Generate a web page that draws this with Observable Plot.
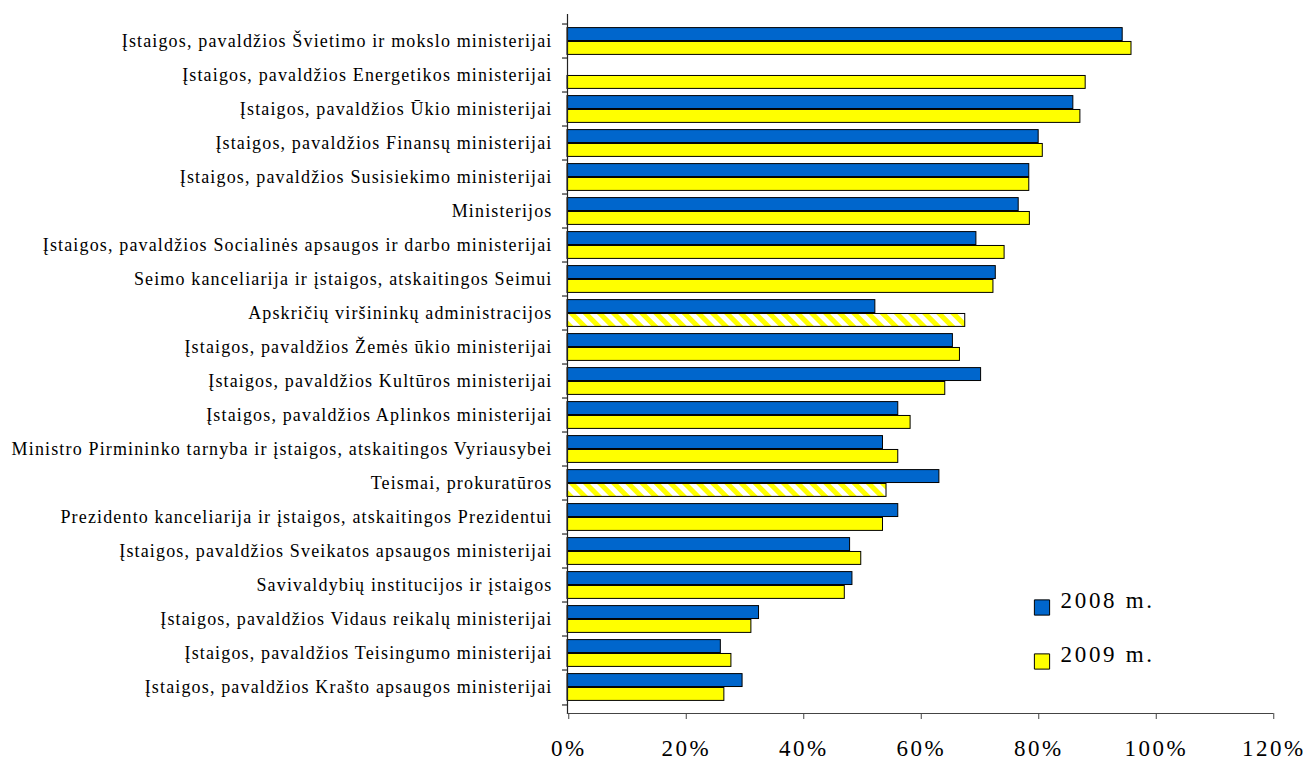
<!DOCTYPE html>
<html>
<head>
<meta charset="utf-8">
<script src="https://cdn.jsdelivr.net/npm/d3@7"></script>
<script src="https://cdn.jsdelivr.net/npm/@observablehq/plot@0.6"></script>
<style>
  html, body { margin: 0; padding: 0; background: #fff; }
  #chart svg { display: block; }
</style>
</head>
<body>
<div id="chart"></div>
<script>
const categories = [
  "Įstaigos, pavaldžios Švietimo ir mokslo ministerijai",
  "Įstaigos, pavaldžios Energetikos ministerijai",
  "Įstaigos, pavaldžios Ūkio ministerijai",
  "Įstaigos, pavaldžios Finansų ministerijai",
  "Įstaigos, pavaldžios Susisiekimo ministerijai",
  "Ministerijos",
  "Įstaigos, pavaldžios Socialinės apsaugos ir darbo ministerijai",
  "Seimo kanceliarija ir įstaigos, atskaitingos Seimui",
  "Apskričių viršininkų administracijos",
  "Įstaigos, pavaldžios Žemės ūkio ministerijai",
  "Įstaigos, pavaldžios Kultūros ministerijai",
  "Įstaigos, pavaldžios Aplinkos ministerijai",
  "Ministro Pirmininko tarnyba ir įstaigos, atskaitingos Vyriausybei",
  "Teismai, prokuratūros",
  "Prezidento kanceliarija ir įstaigos, atskaitingos Prezidentui",
  "Įstaigos, pavaldžios Sveikatos apsaugos ministerijai",
  "Savivaldybių institucijos ir įstaigos",
  "Įstaigos, pavaldžios Vidaus reikalų ministerijai",
  "Įstaigos, pavaldžios Teisingumo ministerijai",
  "Įstaigos, pavaldžios Krašto apsaugos ministerijai"
];
const v2008 = [94.5, null, 86.1, 80.2, 78.6, 76.8, 69.6, 72.9, 52.4, 65.6, 70.4, 56.3, 53.7, 63.3, 56.3, 48.1, 48.5, 32.6, 26.1, 29.8];
const v2009 = [96.0, 88.2, 87.3, 80.9, 78.6, 78.7, 74.4, 72.5, 67.7, 66.8, 64.3, 58.4, 56.3, 54.3, 53.7, 50.0, 47.2, 31.3, 27.9, 26.7];
const hatched2009 = ["Apskričių viršininkų administracijos", "Teismai, prokuratūros"];
const series = ["2008 m.", "2009 m."];
const colors = ["#0066cc", "#ffff00"];
const xTicks = [0, 20, 40, 60, 80, 100, 120];

const rows = categories.map((c, i) => ({
  category: c, v2008: v2008[i], v2009: v2009[i], hatched: hatched2009.includes(c)
}));

const W = 1310, H = 761, mT = 14, mB = 48, mL = 567, mR = 38;
const step = (H - mT - mB) / categories.length;
const pad = 3.6;
const font = "'Liberation Serif', 'Times New Roman', serif";
const yLabelSpacing = 1.15, xLabelSpacing = 2.5, legendSpacing = 2.7;

const defs = () => {
  const g = d3.create("svg:defs");
  const p = g.append("pattern")
    .attr("id", "hatch")
    .attr("patternUnits", "userSpaceOnUse")
    .attr("width", 10).attr("height", 10)
    .attr("patternTransform", "rotate(-45)");
  p.append("rect").attr("width", 10).attr("height", 10).attr("fill", "#ffffff");
  p.append("rect").attr("width", 5).attr("height", 10).attr("fill", colors[1]);
  return g.node();
};

const legendMarks = series.flatMap((s, i) => [
  Plot.dot([s], {frameAnchor: "bottom-right", dx: -230.5, dy: -106 + 54 * i, symbol: "square", r: 8.6, fill: colors[i], stroke: "#000", strokeWidth: 1}),
  Plot.text([s], {frameAnchor: "bottom-right", dx: -212, dy: -106 + 54 * i, text: d => d, textAnchor: "start", fontSize: 23, fill: "#000"})
]);

const chart = Plot.plot({
  width: W, height: H,
  marginTop: mT, marginBottom: mB, marginLeft: mL, marginRight: mR,
  style: {fontFamily: font, background: "#fff", color: "#000"},
  x: {domain: [0, 120], label: null},
  y: {domain: categories, padding: 0, label: null},
  marks: [
    defs,
    Plot.barX(rows.filter(d => d.v2008 != null), {x: "v2008", y: "category", fill: colors[0], stroke: "#000", strokeWidth: 1, insetTop: pad, insetBottom: step / 2}),
    Plot.barX(rows.filter(d => !d.hatched), {x: "v2009", y: "category", fill: colors[1], stroke: "#000", strokeWidth: 1, insetTop: step / 2, insetBottom: pad}),
    Plot.barX(rows.filter(d => d.hatched), {x: "v2009", y: "category", fill: "url(#hatch)", stroke: "#000", strokeWidth: 1, insetTop: step / 2, insetBottom: pad}),
    Plot.axisY({tickSize: 0, tickPadding: 15, fontSize: 18, label: null}),
    Plot.axisY({text: null, tickSize: 5, dy: -step / 2, stroke: "#000", strokeWidth: 1, label: null}),
    Plot.axisY([categories[categories.length - 1]], {text: null, tickSize: 5, dy: step / 2, stroke: "#000", strokeWidth: 1, label: null}),
    Plot.frame({anchor: "left", stroke: "#222", strokeWidth: 1.2}),
    Plot.frame({anchor: "bottom", stroke: "#444", strokeWidth: 1.2}),
    Plot.axisX({ticks: xTicks, tickFormat: d => d + "%", tickSize: 6, tickPadding: 20, fontSize: 23, stroke: "#444", label: null, dx: xLabelSpacing / 2}),
    ...legendMarks
  ]
});

// letter spacing applied after rendering, matched by text content
const setSpacing = (pred, px) => d3.select(chart).selectAll("text")
  .filter(function () { return pred(this.textContent); })
  .attr("letter-spacing", px + "px")
  .style("letter-spacing", px + "px");
setSpacing(t => categories.includes(t), yLabelSpacing);
setSpacing(t => xTicks.map(v => v + "%").includes(t), xLabelSpacing);
setSpacing(t => series.includes(t), legendSpacing);

document.getElementById("chart").appendChild(chart);
</script>
</body>
</html>
